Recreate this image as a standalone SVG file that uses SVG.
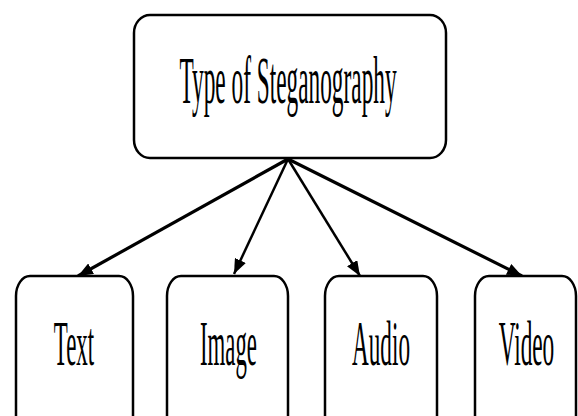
<svg xmlns="http://www.w3.org/2000/svg" width="578" height="416" viewBox="0 0 578 416">
<style>
.box{fill:#fff;stroke:#000;stroke-width:2.5}
.lbl{font-family:"Liberation Serif","Times New Roman",serif;fill:#000;text-anchor:middle}
.edge{stroke:#000;fill:none}
</style>
<defs>
<marker id="ah" viewBox="0 0 15 12" refX="15" refY="6" markerWidth="15" markerHeight="12" markerUnits="userSpaceOnUse" orient="auto">
<path d="M0,0 L15,6 L0,12 z" fill="#000"/>
</marker>
</defs>
<rect width="578" height="416" fill="#fff"/>
<g id="connectors">
<line class="edge" x1="288" y1="159" x2="78" y2="276" stroke-width="3.2" marker-end="url(#ah)"/>
<line class="edge" x1="288" y1="159" x2="234" y2="274" stroke-width="2.5" marker-end="url(#ah)"/>
<line class="edge" x1="288" y1="159" x2="360" y2="276" stroke-width="2.5" marker-end="url(#ah)"/>
<line class="edge" x1="288" y1="159" x2="522" y2="276" stroke-width="3.2" marker-end="url(#ah)"/>
</g>
<g id="root">
<rect class="box" x="134" y="15" width="312" height="143" rx="16" ry="18"/>
<text class="lbl" transform="translate(288,103) scale(0.348,1)" font-size="67">Type of Steganography</text>
</g>
<g id="text">
<rect class="box" x="16" y="276" width="117" height="170" rx="14" ry="20"/>
<text class="lbl" transform="translate(74,365) scale(0.364,1)" font-size="63">Text</text>
</g>
<g id="image">
<rect class="box" x="167" y="276" width="121" height="170" rx="14" ry="20"/>
<text class="lbl" transform="translate(228.5,365) scale(0.362,1)" font-size="63">Image</text>
</g>
<g id="audio">
<rect class="box" x="325" y="276" width="112" height="170" rx="14" ry="20"/>
<text class="lbl" transform="translate(381,365) scale(0.368,1)" font-size="63">Audio</text>
</g>
<g id="video">
<rect class="box" x="475" y="276" width="101" height="170" rx="14" ry="20"/>
<text class="lbl" transform="translate(526.5,365) scale(0.37,1)" font-size="63">Video</text>
</g>
</svg>
